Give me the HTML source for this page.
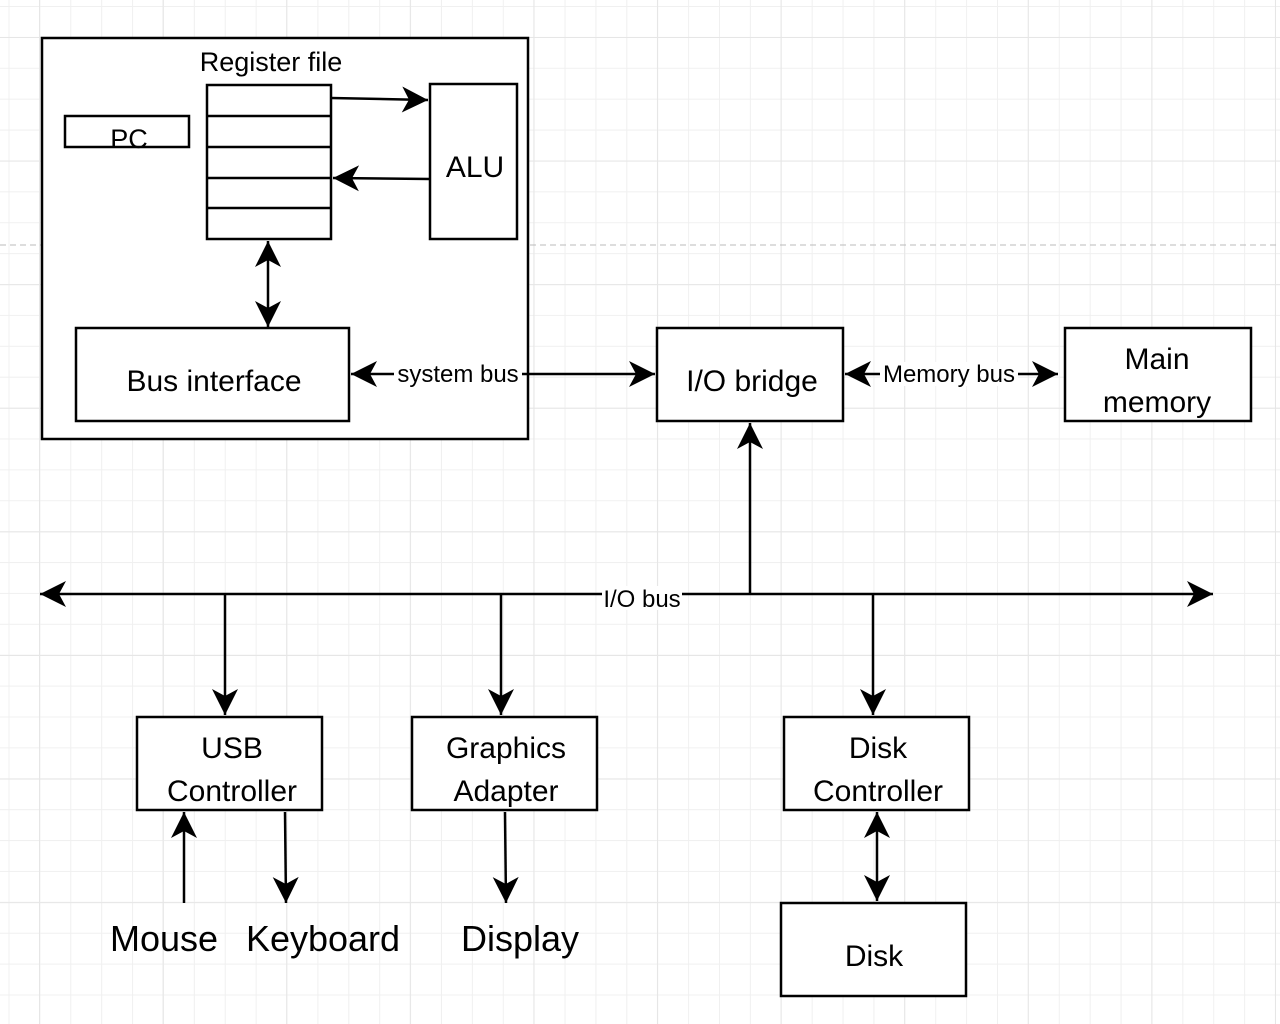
<!DOCTYPE html>
<html><head><meta charset="utf-8"><style>
html,body{margin:0;padding:0;}
body{width:1280px;height:1024px;overflow:hidden;background-color:#fff;
background-image:
linear-gradient(to right,#e6e6e6 1px,transparent 1px),
linear-gradient(to bottom,#e6e6e6 1px,transparent 1px),
linear-gradient(to right,#f0f0f0 1px,transparent 1px),
linear-gradient(to bottom,#f0f0f0 1px,transparent 1px);
background-size:123.6px 123.6px,123.6px 123.6px,30.9px 30.9px,30.9px 30.9px;
background-position:39px 0,0 37px,8.5px 0,0 6px;}
svg{position:absolute;left:0;top:0}
text{font-family:"Liberation Sans",Arial,sans-serif;fill:#000}
</style></head><body>
<svg width="1280" height="1024" viewBox="0 0 1280 1024">
<defs>
<marker id="a" markerUnits="userSpaceOnUse" markerWidth="30" markerHeight="30" refX="26" refY="13" orient="auto-start-reverse" viewBox="0 0 30 30">
<path d="M26,13 L0,0 L7,13 L0,26 Z" fill="#000"/>
</marker>
</defs>
<line x1="0" y1="245" x2="1280" y2="245" stroke="#bbb" stroke-width="1" stroke-dasharray="6,4"/>
<g fill="#fff" stroke="#000" stroke-width="2.5">
<rect x="42" y="38" width="486" height="401"/>
<rect x="207" y="85" width="124" height="154"/>
<rect x="65" y="116" width="124" height="31"/>
<rect x="430" y="84" width="87" height="155"/>
<rect x="76" y="328" width="273" height="93"/>
<rect x="657" y="328" width="186" height="93"/>
<rect x="1065" y="328" width="186" height="93"/>
<rect x="137" y="717" width="185" height="93"/>
<rect x="412" y="717" width="185" height="93"/>
<rect x="784" y="717" width="185" height="93"/>
<rect x="781" y="903" width="185" height="93"/>
</g>
<g stroke="#000" stroke-width="2.5" fill="none">
<line x1="207" y1="116" x2="331" y2="116"/>
<line x1="207" y1="147" x2="331" y2="147"/>
<line x1="207" y1="178" x2="331" y2="178"/>
<line x1="207" y1="208" x2="331" y2="208"/>
<line x1="331" y1="98" x2="428" y2="100" marker-end="url(#a)"/>
<line x1="430" y1="179" x2="333" y2="178" marker-end="url(#a)"/>
<line x1="268" y1="241" x2="268" y2="327" marker-start="url(#a)" marker-end="url(#a)"/>
<line x1="351" y1="374" x2="655" y2="374" marker-start="url(#a)" marker-end="url(#a)"/>
<line x1="845" y1="374" x2="1058" y2="374" marker-start="url(#a)" marker-end="url(#a)"/>
<line x1="750" y1="594" x2="750" y2="423" marker-end="url(#a)"/>
<line x1="40" y1="594" x2="1213" y2="594" marker-start="url(#a)" marker-end="url(#a)"/>
<line x1="225" y1="594" x2="225" y2="715" marker-end="url(#a)"/>
<line x1="501" y1="594" x2="501" y2="715" marker-end="url(#a)"/>
<line x1="873" y1="594" x2="873" y2="715" marker-end="url(#a)"/>
<line x1="184" y1="903" x2="184" y2="812" marker-end="url(#a)"/>
<line x1="285" y1="812" x2="286" y2="903" marker-end="url(#a)"/>
<line x1="505" y1="812" x2="506" y2="903" marker-end="url(#a)"/>
<line x1="877" y1="812" x2="877" y2="901" marker-start="url(#a)" marker-end="url(#a)"/>
</g>
<g text-anchor="middle">
<text x="271" y="71" font-size="27">Register file</text>
<text x="129" y="148" font-size="27">PC</text>
<text x="475" y="177" font-size="30">ALU</text>
<text x="214" y="391" font-size="30">Bus interface</text>
<text x="752" y="391" font-size="30">I/O bridge</text>
<text x="1157" y="369" font-size="30">Main</text>
<text x="1157" y="412" font-size="30">memory</text>
<rect x="394" y="362" width="128" height="24" fill="#fff"/>
<text x="458" y="382" font-size="24">system bus</text>
<rect x="880" y="362" width="138" height="24" fill="#fff"/>
<text x="949" y="382" font-size="24">Memory bus</text>
<rect x="602" y="586" width="80" height="24" fill="#fff"/>
<text x="642" y="607" font-size="24">I/O bus</text>
<text x="232" y="758" font-size="30">USB</text>
<text x="232" y="801" font-size="30">Controller</text>
<text x="506" y="758" font-size="30">Graphics</text>
<text x="506" y="801" font-size="30">Adapter</text>
<text x="878" y="758" font-size="30">Disk</text>
<text x="878" y="801" font-size="30">Controller</text>
<text x="874" y="966" font-size="30">Disk</text>
<text x="164" y="951" font-size="36">Mouse</text>
<text x="323" y="951" font-size="36">Keyboard</text>
<text x="520" y="951" font-size="36">Display</text>
</g>
</svg>
</body></html>
